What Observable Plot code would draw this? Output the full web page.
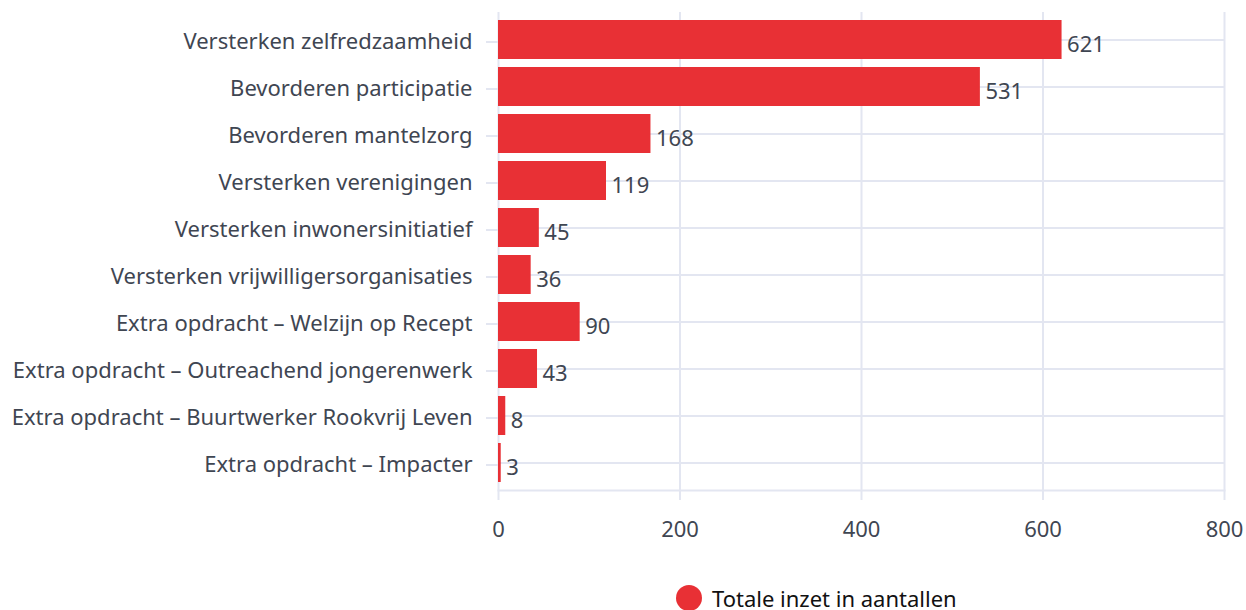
<!DOCTYPE html>
<html>
<head>
<meta charset="utf-8">
<script src="https://cdn.jsdelivr.net/npm/d3@7"></script>
<script src="https://cdn.jsdelivr.net/npm/@observablehq/plot@0.6"></script>
<style>
  html, body { margin: 0; padding: 0; background: #fff; overflow: hidden; }
  #chart svg { display: block; }
  #legend { position: relative; height: 40px; font-family: "Noto Sans", sans-serif; font-size: 22px; color: #111; }
  #legend .dot { position: absolute; left: 676px; top: 3px; width: 26px; height: 26px; border-radius: 50%; background: #e83035; }
  #legend .lbl { position: absolute; left: 712px; top: 5px; white-space: nowrap; line-height: 1; }
</style>
</head>
<body>
<div id="chart"></div>
<div id="legend"><span class="dot"></span><span class="lbl">Totale inzet in aantallen</span></div>
<script>
const categories = [
  "Versterken zelfredzaamheid",
  "Bevorderen participatie",
  "Bevorderen mantelzorg",
  "Versterken verenigingen",
  "Versterken inwonersinitiatief",
  "Versterken vrijwilligersorganisaties",
  "Extra opdracht – Welzijn op Recept",
  "Extra opdracht – Outreachend jongerenwerk",
  "Extra opdracht – Buurtwerker Rookvrij Leven",
  "Extra opdracht – Impacter"
];
const values = [621, 531, 168, 119, 45, 36, 90, 43, 8, 3];
const xTicks = [0, 200, 400, 600, 800];
const seriesName = "Totale inzet in aantallen";

const data = categories.map((c, i) => ({category: c, value: values[i], series: seriesName}));

const grid = "#e3e6f1";
const textColor = "#3f4652";
const barColor = "#e83035";
const fs = 22;

const chart = Plot.plot({
  width: 1246,
  height: 582,
  marginLeft: 498,
  marginRight: 22,
  marginTop: 12,
  marginBottom: 92,
  style: {fontFamily: "'Noto Sans', sans-serif", fontSize: fs + "px", color: textColor, background: "#fff"},
  x: {domain: [0, 800], ticks: xTicks, label: null},
  y: {domain: categories, label: null, paddingInner: 0.17, paddingOuter: 0.085},
  marks: [
    Plot.gridX(xTicks, {stroke: grid, strokeOpacity: 1, strokeWidth: 2}),
    Plot.gridY({stroke: grid, strokeOpacity: 1, strokeWidth: 2}),
    Plot.frame({anchor: "bottom", stroke: grid, strokeWidth: 2}),
    Plot.axisX(xTicks, {tickSize: 10, tickPadding: 21, stroke: grid, strokeWidth: 2, fill: textColor, tickFormat: d => String(d), fontSize: fs}),
    Plot.axisY({tickSize: 12, tickPadding: 14, stroke: grid, strokeWidth: 2, fill: textColor, fontSize: fs, dy: 2}),
    Plot.barX(data, {x: "value", y: "category", fill: barColor}),
    Plot.text(data, {x: "value", y: "category", text: d => String(d.value), textAnchor: "start", dx: 5, dy: 5, fill: textColor, fontSize: fs})
  ]
});
document.getElementById("chart").appendChild(chart);
</script>
</body>
</html>
